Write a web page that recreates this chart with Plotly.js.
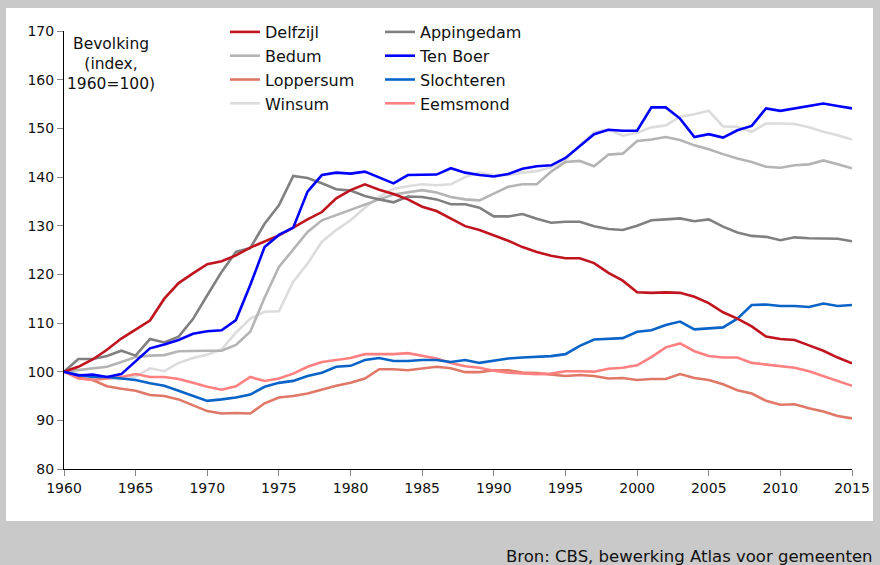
<!DOCTYPE html>
<html>
<head>
<meta charset="utf-8">
<script src="https://cdn.plot.ly/plotly-3.0.1.min.js"></script>
<style>
html,body{margin:0;padding:0;background:#c9c9c9;}
#chart{width:880px;height:565px;}
</style>
</head>
<body>
<div id="chart"></div>
<script>
const years = [];
for (let y = 1960; y <= 2015; y++) years.push(y);

const delfzijl = [100,101,102.5,104.5,106.8,108.6,110.5,115,118.2,120.2,122.1,122.7,123.9,125.5,126.7,128,129.6,131.3,132.8,135.6,137.3,138.5,137.4,136.5,135.4,133.9,133,131.5,129.9,129.1,128,126.9,125.6,124.6,123.8,123.3,123.3,122.3,120.3,118.7,116.3,116.2,116.3,116.2,115.4,114.1,112.2,110.9,109.3,107.2,106.7,106.5,105.4,104.3,102.9,101.7];
const appingedam = [100,102.6,102.6,103.2,104.3,103.3,106.7,106,107.2,110.8,115.7,120.5,124.6,125.4,130.4,134.2,140.2,139.8,138.7,137.5,137.2,136.1,135.4,134.8,136,135.9,135.4,134.4,134.4,133.7,131.9,131.9,132.4,131.4,130.6,130.8,130.8,129.9,129.3,129.1,130,131.1,131.3,131.5,130.9,131.3,129.8,128.6,127.9,127.7,127,127.6,127.4,127.3,127.3,126.8];
const bedum = [100,100.3,100.6,101,102,103,103.3,103.4,104.2,104.3,104.3,104.3,105.5,108.2,115.2,121.5,125,128.7,131.1,132.2,133.3,134.4,135.4,136.4,136.9,137.3,136.8,135.9,135.4,135.2,136.6,138,138.5,138.5,141.1,143.1,143.3,142.2,144.6,144.8,147.4,147.7,148.2,147.6,146.5,145.7,144.7,143.8,143.1,142.1,141.9,142.4,142.6,143.4,142.6,141.8];
const tenBoer = [100,99.2,99.4,98.9,99.5,102.2,104.8,105.6,106.5,107.8,108.3,108.5,110.6,117.8,125.6,128.1,129.6,137,140.4,140.9,140.7,141.1,139.9,138.7,140.4,140.5,140.5,141.8,140.9,140.4,140.1,140.6,141.7,142.2,142.4,143.9,146.3,148.8,149.7,149.5,149.5,154.3,154.3,152,148.2,148.8,148.1,149.6,150.5,154.1,153.6,154.1,154.5,155.1,154.6,154.1];
const loppersum = [100,98.8,98.3,97,96.5,96.1,95.2,95,94.3,93.1,91.9,91.4,91.5,91.4,93.5,94.7,95,95.5,96.3,97.1,97.7,98.6,100.5,100.5,100.3,100.7,101,100.7,99.9,99.9,100.3,100.3,99.8,99.7,99.4,99.1,99.3,99.1,98.6,98.7,98.3,98.5,98.5,99.5,98.7,98.3,97.4,96.2,95.5,94,93.2,93.3,92.5,91.8,90.9,90.4];
const slochteren = [100,99.3,98.9,98.9,98.6,98.3,97.6,97.1,96.1,95.1,94,94.3,94.7,95.3,96.9,97.7,98.1,99.1,99.8,101,101.2,102.4,102.8,102.2,102.2,102.4,102.4,102,102.4,101.8,102.2,102.7,102.9,103,103.2,103.6,105.3,106.6,106.7,106.9,108.2,108.5,109.6,110.3,108.7,108.9,109.1,110.9,113.7,113.8,113.5,113.5,113.3,114,113.5,113.7];
const winsum = [100,99.5,99,98.6,98.5,99,100.7,100.1,101.8,102.8,103.5,104.6,108,110.9,112.3,112.4,118.5,122.2,126.7,129.1,131.1,133.7,135.9,137.6,138.1,138.5,138.3,138.5,140,140.9,140.4,140.4,140.9,141.2,142,143.5,146.5,149.2,149.8,148.5,149.1,150.2,150.6,152.4,152.9,153.6,150.4,150.3,149.3,151,151,150.9,150.2,149.3,148.6,147.7];
const eemsmond = [100,98.6,98.3,98.6,98.9,99.5,98.9,98.9,98.5,97.7,96.9,96.3,97,98.9,98.1,98.6,99.6,101,102,102.4,102.8,103.6,103.6,103.6,103.8,103.2,102.7,101.8,101.1,100.8,100.2,99.8,99.6,99.5,99.6,100.1,100.1,100,100.6,100.8,101.3,103,105,105.8,104.2,103.2,102.9,102.9,101.8,101.5,101.1,100.8,100.1,99.1,98.1,97.1];

const xTicks = [1960,1965,1970,1975,1980,1985,1990,1995,2000,2005,2010,2015];
const yTicks = [80,90,100,110,120,130,140,150,160,170];

const seriesNames = ['Delfzijl','Bedum','Loppersum','Winsum','Appingedam','Ten Boer','Slochteren','Eemsmond'];
const seriesData = [delfzijl, bedum, loppersum, winsum, appingedam, tenBoer, slochteren, eemsmond];
const seriesColors = ['#c0141e','#b4b4b4','#e07868','#dcdcdc','#808080','#0000ff','#0a64c8','#ff8080'];
const seriesLegend = ['legend','legend','legend','legend','legend2','legend2','legend2','legend2'];
const drawOrder = [3,1,4,2,7,6,0,5];

const FONT = 'DejaVu Sans, sans-serif';
const traces = drawOrder.map(i => ({
  type: 'scatter', mode: 'lines',
  x: years, y: seriesData[i], name: seriesNames[i],
  line: {color: seriesColors[i], width: 2.6},
  legend: seriesLegend[i],
  legendgroup: 'g' + i,
  legendrank: i + 1
}));

const X0 = 64, X1 = 852, Y0 = 31, Y1 = 469;
const W = X1 - X0, H = Y1 - Y0;
const px = v => (v - X0) / W;
const py = v => (Y1 - v) / H;

const legendCommon = {
  font: {family: FONT, size: 16, color: '#111'},
  bgcolor: 'rgba(0,0,0,0)', borderwidth: 0,
  xanchor: 'left', yanchor: 'top',
  tracegroupgap: 5.5, itemwidth: 30, traceorder: 'normal'
};

const layout = {
  width: 880, height: 565,
  margin: {l: X0, r: 880 - X1, t: Y0, b: 565 - Y1, pad: 0},
  paper_bgcolor: '#c9c9c9',
  plot_bgcolor: '#ffffff',
  showlegend: true,
  font: {family: FONT, size: 14, color: '#111'},
  xaxis: {
    range: [1960, 2015], tickvals: xTicks, ticktext: xTicks.map(String),
    showgrid: false, zeroline: false, showline: true, linecolor: '#000', linewidth: 1,
    ticks: 'outside', ticklen: 6, tickcolor: '#888', tickwidth: 1,
    tickfont: {family: FONT, size: 14, color: '#111'}, fixedrange: true
  },
  yaxis: {
    range: [80, 170], tickvals: yTicks,
    showgrid: false, zeroline: false, showline: true, linecolor: '#000', linewidth: 1,
    ticks: 'outside', ticklen: 6, tickcolor: '#888', tickwidth: 1,
    tickfont: {family: FONT, size: 14, color: '#111'}, fixedrange: true
  },
  legend: Object.assign({}, legendCommon, {x: px(225), y: py(15)}),
  legend2: Object.assign({}, legendCommon, {x: px(380), y: py(15)}),
  shapes: [{
    type: 'rect', xref: 'paper', yref: 'paper', layer: 'below',
    x0: px(6), x1: px(873), y0: py(521), y1: py(8),
    fillcolor: '#ffffff', line: {width: 0}
  }],
  annotations: [
    {xref: 'paper', yref: 'paper', x: px(111), y: py(64), xanchor: 'center', yanchor: 'middle',
     text: 'Bevolking<br>(index,<br>1960=100)', showarrow: false, align: 'center',
     font: {family: FONT, size: 15.5, color: '#111'}},
    {xref: 'paper', yref: 'paper', x: px(875), y: py(556), xanchor: 'right', yanchor: 'middle',
     text: 'Bron: CBS, bewerking Atlas voor gemeenten', showarrow: false,
     font: {family: FONT, size: 16.5, color: '#111'}}
  ]
};

Plotly.newPlot('chart', traces, layout, {displayModeBar: false, staticPlot: true});
</script>
</body>
</html>
